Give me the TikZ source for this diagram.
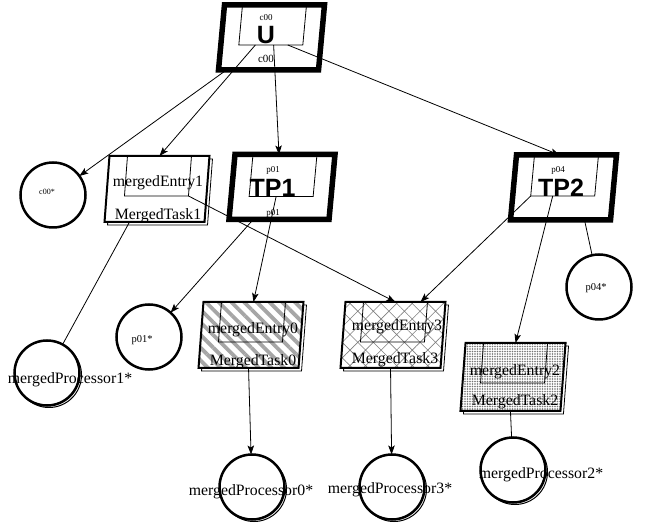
\documentclass[tikz,border=0pt]{standalone}
\usepackage{fontspec}
\setmainfont{Liberation Serif}
\newfontfamily\hsans{Liberation Sans}
\usetikzlibrary{patterns.meta,shadows,arrows.meta,calc}
\begin{document}
\begin{tikzpicture}[x=1pt,y=-1pt,
  boss/.style={rectangle, draw, fill=white, line width=5.5pt, xslant=0.092, transform shape, minimum width=100pt, minimum height=65pt, inner sep=0pt, outer sep=0pt},
  bossin/.style={rectangle, draw, line width=0.8pt, xslant=0.092, transform shape, minimum width=64pt, minimum height=40pt, inner sep=0pt, outer sep=0pt, anchor=north},
  task/.style={rectangle, draw, line width=2pt, xslant=0.075, transform shape, minimum width=100pt, minimum height=66pt, inner sep=0pt, outer sep=0pt, copy shadow={shadow xshift=3pt, shadow yshift=-3pt, draw, line width=0.8pt, fill=white}, preaction={fill=white}},
  taskin/.style={rectangle, draw, line width=0.8pt, xslant=0.075, transform shape, minimum width=64pt, minimum height=40pt, inner sep=0pt, outer sep=0pt, anchor=north},
  res/.style={circle, draw, line width=2.5pt, fill=white, minimum size=65pt, inner sep=0pt, outer sep=0pt},
  proc/.style={res, copy shadow={shadow xshift=2pt, shadow yshift=-2pt, draw, line width=1pt, fill=white}},
  lbl/.style={font=\fontsize{15.8}{17}\selectfont, inner sep=0pt},
  big/.style={font=\hsans\bfseries\fontsize{25}{28}\selectfont, fill=white, inner sep=0.5pt},
  small/.style={font=\fontsize{9}{10}\selectfont, inner sep=0pt},
  arr/.style={line width=0.8pt, -{Stealth[length=9pt,width=6.5pt,inset=2pt]}},
  ln/.style={line width=0.8pt},
]
\useasboundingbox (0,0) rectangle (646,529);

% outer task shapes
\node[boss] (U) at (271.5,37.5) {};
\node[boss] (TP1) at (282,187) {};
\node[boss] (TP2) at (563.5,187.5) {};
\node[task, fill=white] (T1) at (157,189) {};
\node[task, pattern={Lines[angle=-45,distance=9pt,line width=3.8pt]}, pattern color=gray!70] (T0) at (251,335) {};
\node[task, pattern={Hatch[angle=45,distance=11pt,line width=0.6pt]}, pattern color=gray] (T3) at (393,335) {};
\node[task, minimum height=68pt, pattern={Dots[distance=2.5pt,radius=0.85pt]}, pattern color=black!55] (T2) at (513,377) {};

% resources and processors
\node[res] (c00) at (53,195) {};
\node[res] (p01) at (149,337) {};
\node[res] (p04) at (599,287) {};
\node[proc] (mp1) at (47,373) {};
\node[proc] (mp0) at (252,487) {};
\node[proc] (mp3) at (392,487) {};
\node[proc] (mp2) at (513,470) {};

% small texts above the big labels
\node[small] (Uc) at (266,18) {c00};
\node[big] (Ut) at (266,35) {U};
\node[small] (TP1c) at (273,170) {p01};
\node[big] (TP1t) at (272.5,188) {TP1};
\node[small] (TP2c) at (558,170) {p04};
\node[big] (TP2t) at (561,188) {TP2};

% entries
\node[bossin] (Ue) at (U.north) {};
\node[bossin, minimum height=42pt] (TP1e) at (TP1.north) {};
\node[bossin, minimum height=41pt] (TP2e) at (TP2.north) {};
\node[taskin] (T1e) at (T1.north) {};
\node[taskin] (T0e) at (T0.north) {};
\node[taskin] (T3e) at (T3.north) {};
\node[taskin] (T2e) at (T2.north) {};

% connectors
\draw[arr] (U) -- (c00);
\draw[arr] (Ue) -- (T1.north);
\draw[arr] (Ue) -- ([xshift=-6pt]TP1.north);
\draw[arr] ([xshift=17pt]Ue.south) -- ([xshift=-7pt]TP2.north);
\draw[arr] (T1e.south east) -- (T3.north);
\draw[arr] (TP1) -- (p01);
\draw[arr] ([xshift=-5pt]TP1e.south) -- (T0.north);
\draw[arr] (TP2e.south west) -- ([xshift=25pt]T3.north);
\draw[arr] ([xshift=-10pt]TP2e.south) -- (T2.north);
\draw[ln] ([xshift=24pt]TP2.south) -- (p04);
\draw[ln] ([xshift=-25pt]T1.south) -- (mp1);
\draw[arr] (T0.south) -- (mp0);
\draw[arr] (T3.south) -- (mp3);
\draw[ln] (T2.south) -- (mp2);

% texts
\node[font=\fontsize{11}{12}\selectfont, inner sep=0pt] (Ub) at (266,59) {c00};
\node[small] (TP1b) at (273,213) {p01};
\node[lbl] (T1a) at (158,183) {mergedEntry1};
\node[lbl] (T1b) at (158,216) {MergedTask1};
\node[lbl] (T0a) at (253,330) {mergedEntry0};
\node[lbl] (T0b) at (253,362) {MergedTask0};
\node[lbl] (T3a) at (397,327) {mergedEntry3};
\node[lbl] (T3b) at (395,360) {MergedTask3};
\node[lbl] (T2a) at (515,372) {mergedEntry2};
\node[lbl] (T2b) at (515,402) {MergedTask2};
\node[font=\fontsize{8}{9}\selectfont, inner sep=0pt] (c00t) at (47,192) {c00*};
\node[font=\fontsize{10.5}{12}\selectfont, inner sep=0pt] (p01t) at (142,340) {p01*};
\node[font=\fontsize{10.5}{12}\selectfont, inner sep=0pt] (p04t) at (596,288) {p04*};
\node[lbl] (mp1t) at (70,380) {mergedProcessor1*};
\node[lbl] (mp0t) at (251,492) {mergedProcessor0*};
\node[lbl] (mp3t) at (390,490) {mergedProcessor3*};
\node[lbl] (mp2t) at (541,475) {mergedProcessor2*};
\end{tikzpicture}
\end{document}
